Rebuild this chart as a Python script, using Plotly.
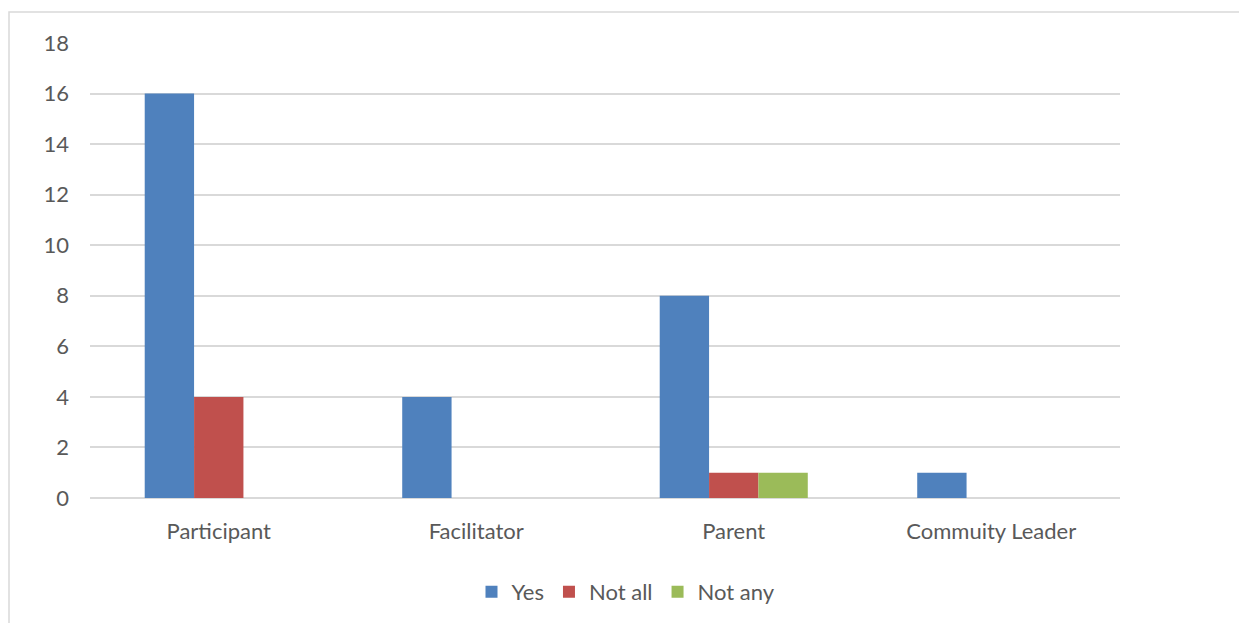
import plotly.graph_objects as go

categories = ["Participant", "Facilitator", "Parent", "Commuity Leader"]
yes_vals = [16, 4, 8, 1]
not_all_vals = [4, 0, 1, 0]
not_any_vals = [0, 0, 1, 0]

W, H = 1239, 623
L, R, T, B = 90, 1120, 43, 498
pw, ph = R - L, B - T

def px(x):
    return (x - L) / pw

def py(y):
    return (B - y) / ph

font_family = "Lato, 'Open Sans', sans-serif"
txt = "#595959"
fs = 22

fig = go.Figure()
fig.add_bar(x=categories, y=yes_vals, name="Yes", marker_color="#4f81bd", marker_line_width=0)
fig.add_bar(x=categories, y=not_all_vals, name="Not all", marker_color="#c0504d", marker_line_width=0)
fig.add_bar(x=categories, y=not_any_vals, name="Not any", marker_color="#9bbb59", marker_line_width=0)

fig.update_layout(
    width=W, height=H,
    margin=dict(l=L, r=W - R, t=T, b=H - B, autoexpand=False),
    paper_bgcolor="white", plot_bgcolor="white",
    barmode="group", bargap=0.425, bargroupgap=0,
    font=dict(family=font_family, size=fs, color=txt),
    showlegend=True,
    legend=dict(orientation="h", x=px(626), xanchor="center", y=py(592), yanchor="middle",
                font=dict(size=fs, color=txt), itemwidth=30, traceorder="normal"),
    xaxis=dict(showgrid=False, showline=False, ticks="", ticklabelstandoff=18,
               tickfont=dict(size=fs, color=txt)),
    yaxis=dict(range=[0, 18], dtick=2, showgrid=True, gridcolor="#d9d9d9", gridwidth=1.5,
               zeroline=True, zerolinecolor="#d9d9d9", zerolinewidth=1.5,
               showline=False, ticks="", ticklabelstandoff=20,
               tickfont=dict(size=fs, color=txt)),
    shapes=[dict(type="rect", xref="paper", yref="paper",
                 x0=px(9), x1=px(1250), y0=py(640), y1=py(12),
                 line=dict(color="#d9d9d9", width=1.5), fillcolor="rgba(0,0,0,0)", layer="below")],
)

fig.write_html("out.html")
